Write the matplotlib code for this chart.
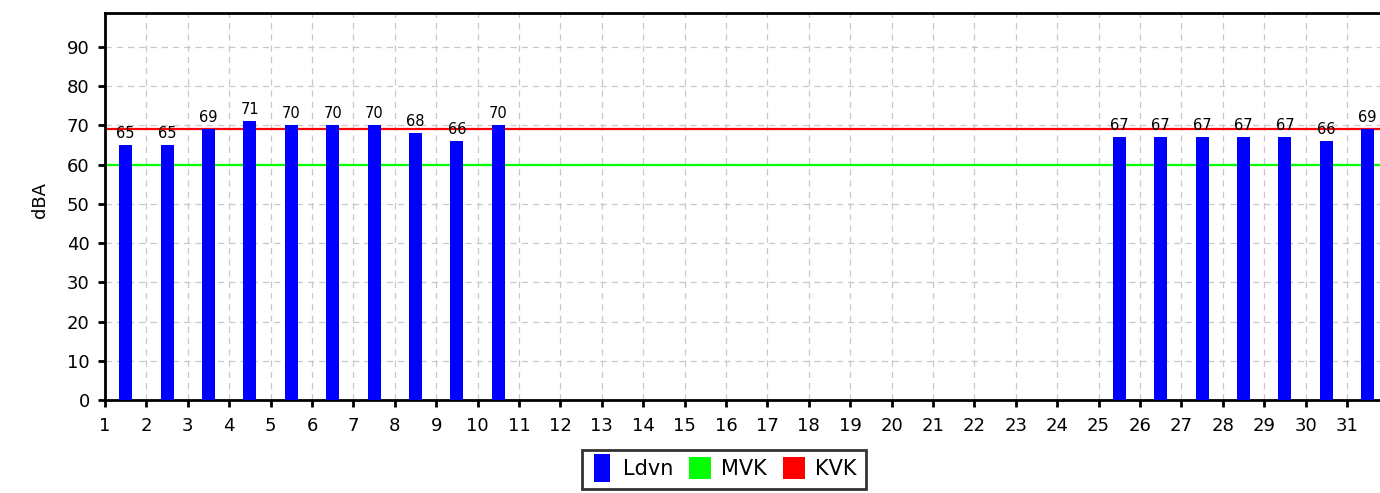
import matplotlib.pyplot as plt
from matplotlib.lines import Line2D

# datos del mes: dia -> Ldvn (dBA), dias sin medicion quedan fuera
dias = [1, 2, 3, 4, 5, 6, 7, 8, 9, 10, 25, 26, 27, 28, 29, 30, 31]
ldvn = [65, 65, 69, 71, 70, 70, 70, 68, 66, 70, 67, 67, 67, 67, 67, 66, 69]
mvk = 60
kvk = 69
ticks_x = list(range(1, 32))
ticks_y = list(range(0, 100, 10))

plt.rcParams['font.family'] = ['DejaVu Sans']

fig = plt.figure(figsize=(13.8, 4.93), dpi=100)
ax = fig.add_axes([0.0761, 0.1886, 0.93, 0.7856])

# barras centradas entre ticks
pos = [d + 0.5 for d in dias]
barras = ax.bar(pos, ldvn, width=0.315, color='#0000ff', zorder=3)
ax.bar_label(barras, labels=[str(v) for v in ldvn], padding=3, fontsize=10.5)

ax.axhline(mvk, color='#00ff00', linewidth=1.6, zorder=2)
ax.axhline(kvk, color='#ff0000', linewidth=1.6, zorder=2)

ax.set_xlim(1, 32)
ax.set_ylim(0, 98.7)
ax.set_xticks(ticks_x)
ax.set_yticks(ticks_y)
ax.tick_params(axis='both', labelsize=13, width=2, length=5, direction='out')
ax.tick_params(axis='x', pad=7)
ax.tick_params(axis='y', pad=6)

ax.grid(True, color='#c8c8c8', linestyle=(0, (5, 4)), linewidth=0.9, zorder=0)
ax.set_axisbelow(True)

for lado in ['left', 'bottom', 'top']:
    ax.spines[lado].set_linewidth(2)
ax.spines['right'].set_visible(False)

fig.text(40 / 1380, 0.595, 'dBA', rotation=90, fontsize=13, ha='center', va='center')

# leyenda con marcadores cuadrados
rect = [(-0.31, -0.5), (0.31, -0.5), (0.31, 0.5), (-0.31, 0.5)]
handles = [
    Line2D([], [], linestyle='none', marker=rect, markersize=19.5, color='#0000ff', markeredgewidth=0),
    Line2D([], [], linestyle='none', marker='s', markersize=16, color='#00ff00', markeredgewidth=0),
    Line2D([], [], linestyle='none', marker='s', markersize=16, color='#ff0000', markeredgewidth=0),
]
leg = fig.legend(handles, ['Ldvn', 'MVK', 'KVK'], loc='upper center',
                 bbox_to_anchor=(724 / 1380, 1 - 450 / 493), ncol=3, fontsize=15,
                 frameon=True, fancybox=False, handlelength=1.0, handletextpad=0.5,
                 columnspacing=0.8, borderpad=0.45, borderaxespad=0)
leg.get_frame().set_edgecolor('black')
leg.get_frame().set_linewidth(2)

fig.savefig('out.png', dpi=100)
